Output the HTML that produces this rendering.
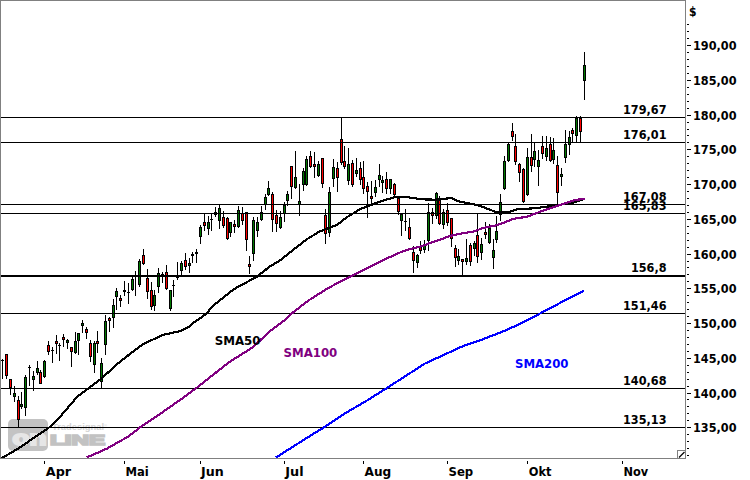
<!DOCTYPE html>
<html lang="de"><head><meta charset="utf-8"><title>Chart</title>
<style>html,body{margin:0;padding:0;background:#fff;overflow:hidden}svg{display:block}</style>
</head><body>
<svg width="750" height="480" viewBox="0 0 750 480">
<rect width="750" height="480" fill="#fff"/>
<g class="wm">
<rect x="8" y="419" width="40" height="32" rx="5" ry="5" fill="#c3c3c3"/>
<text x="12.5" y="445.3" font-family="Liberation Sans, sans-serif" font-weight="bold" font-size="20" fill="#e6e6e6" stroke="#e6e6e6" stroke-width="2" textLength="34" lengthAdjust="spacingAndGlyphs">on</text>
<text x="50" y="445.3" font-family="Liberation Sans, sans-serif" font-weight="bold" font-size="14.3" fill="#c2c2c2" stroke="#c2c2c2" stroke-width="1.7" textLength="55" lengthAdjust="spacingAndGlyphs">LINE</text>
<text x="52" y="430" font-family="Liberation Sans, sans-serif" font-weight="bold" font-size="8.5" fill="#d4d4d4" textLength="52" lengthAdjust="spacingAndGlyphs">Tradesignal</text>
<text x="104" y="427" font-family="Liberation Sans, sans-serif" font-size="4" fill="#d4d4d4">®</text>
</g>
<g shape-rendering="crispEdges">
<rect x="2" y="359" width="1" height="20" fill="#000"/>
<rect x="1" y="360" width="3" height="1" fill="#000"/>
<rect x="6" y="354" width="1" height="25" fill="#000"/>
<rect x="5" y="354" width="3" height="22" fill="#000"/>
<rect x="6" y="355" width="1" height="20" fill="#ff0000"/>
<rect x="10" y="379" width="1" height="16" fill="#000"/>
<rect x="9" y="379" width="3" height="9" fill="#000"/>
<rect x="10" y="380" width="1" height="7" fill="#ff0000"/>
<rect x="14" y="386" width="1" height="16" fill="#000"/>
<rect x="13" y="393" width="3" height="4" fill="#000"/>
<rect x="14" y="394" width="1" height="2" fill="#007800"/>
<rect x="18" y="396" width="1" height="31" fill="#000"/>
<rect x="17" y="400" width="3" height="20" fill="#000"/>
<rect x="18" y="401" width="1" height="18" fill="#ff0000"/>
<rect x="21" y="392" width="1" height="17" fill="#000"/>
<rect x="20" y="404" width="3" height="3" fill="#000"/>
<rect x="21" y="405" width="1" height="1" fill="#007800"/>
<rect x="25" y="375" width="1" height="41" fill="#000"/>
<rect x="24" y="377" width="3" height="31" fill="#000"/>
<rect x="25" y="378" width="1" height="29" fill="#007800"/>
<rect x="29" y="365" width="1" height="21" fill="#000"/>
<rect x="28" y="367" width="3" height="1" fill="#000"/>
<rect x="33" y="371" width="1" height="20" fill="#000"/>
<rect x="32" y="376" width="3" height="4" fill="#000"/>
<rect x="33" y="377" width="1" height="2" fill="#007800"/>
<rect x="37" y="361" width="1" height="14" fill="#000"/>
<rect x="36" y="368" width="3" height="5" fill="#000"/>
<rect x="37" y="369" width="1" height="3" fill="#007800"/>
<rect x="40" y="370" width="1" height="14" fill="#000"/>
<rect x="39" y="372" width="3" height="12" fill="#000"/>
<rect x="40" y="373" width="1" height="10" fill="#ff0000"/>
<rect x="44" y="360" width="1" height="18" fill="#000"/>
<rect x="43" y="361" width="3" height="16" fill="#000"/>
<rect x="44" y="362" width="1" height="14" fill="#007800"/>
<rect x="48" y="341" width="1" height="14" fill="#000"/>
<rect x="47" y="345" width="3" height="7" fill="#000"/>
<rect x="48" y="346" width="1" height="5" fill="#ff0000"/>
<rect x="52" y="347" width="1" height="16" fill="#000"/>
<rect x="51" y="350" width="3" height="1" fill="#000"/>
<rect x="56" y="335" width="1" height="19" fill="#000"/>
<rect x="55" y="341" width="3" height="3" fill="#000"/>
<rect x="56" y="342" width="1" height="1" fill="#ff0000"/>
<rect x="59" y="343" width="1" height="18" fill="#000"/>
<rect x="58" y="345" width="3" height="1" fill="#000"/>
<rect x="63" y="334" width="1" height="13" fill="#000"/>
<rect x="62" y="337" width="3" height="3" fill="#000"/>
<rect x="63" y="338" width="1" height="1" fill="#ff0000"/>
<rect x="67" y="339" width="1" height="10" fill="#000"/>
<rect x="66" y="340" width="3" height="3" fill="#000"/>
<rect x="67" y="341" width="1" height="1" fill="#007800"/>
<rect x="71" y="347" width="1" height="20" fill="#000"/>
<rect x="70" y="347" width="3" height="5" fill="#000"/>
<rect x="71" y="348" width="1" height="3" fill="#ff0000"/>
<rect x="75" y="332" width="1" height="22" fill="#000"/>
<rect x="74" y="341" width="3" height="12" fill="#000"/>
<rect x="75" y="342" width="1" height="10" fill="#007800"/>
<rect x="78" y="333" width="1" height="22" fill="#000"/>
<rect x="77" y="333" width="3" height="8" fill="#000"/>
<rect x="78" y="334" width="1" height="6" fill="#007800"/>
<rect x="82" y="320" width="1" height="13" fill="#000"/>
<rect x="81" y="323" width="3" height="3" fill="#000"/>
<rect x="82" y="324" width="1" height="1" fill="#007800"/>
<rect x="86" y="327" width="1" height="12" fill="#000"/>
<rect x="85" y="329" width="3" height="4" fill="#000"/>
<rect x="86" y="330" width="1" height="2" fill="#ff0000"/>
<rect x="90" y="340" width="1" height="22" fill="#000"/>
<rect x="89" y="343" width="3" height="14" fill="#000"/>
<rect x="90" y="344" width="1" height="12" fill="#ff0000"/>
<rect x="94" y="341" width="1" height="32" fill="#000"/>
<rect x="93" y="343" width="3" height="22" fill="#000"/>
<rect x="94" y="344" width="1" height="20" fill="#007800"/>
<rect x="97" y="331" width="1" height="22" fill="#000"/>
<rect x="96" y="341" width="3" height="3" fill="#000"/>
<rect x="97" y="342" width="1" height="1" fill="#ff0000"/>
<rect x="101" y="358" width="1" height="30" fill="#000"/>
<rect x="100" y="363" width="3" height="19" fill="#000"/>
<rect x="101" y="364" width="1" height="17" fill="#007800"/>
<rect x="105" y="315" width="1" height="40" fill="#000"/>
<rect x="104" y="321" width="3" height="24" fill="#000"/>
<rect x="105" y="322" width="1" height="22" fill="#007800"/>
<rect x="109" y="317" width="1" height="15" fill="#000"/>
<rect x="108" y="318" width="3" height="3" fill="#000"/>
<rect x="109" y="319" width="1" height="1" fill="#ff0000"/>
<rect x="113" y="299" width="1" height="29" fill="#000"/>
<rect x="112" y="305" width="3" height="13" fill="#000"/>
<rect x="113" y="306" width="1" height="11" fill="#007800"/>
<rect x="116" y="288" width="1" height="22" fill="#000"/>
<rect x="115" y="291" width="3" height="6" fill="#000"/>
<rect x="116" y="292" width="1" height="4" fill="#007800"/>
<rect x="120" y="295" width="1" height="12" fill="#000"/>
<rect x="119" y="298" width="3" height="3" fill="#000"/>
<rect x="120" y="299" width="1" height="1" fill="#ff0000"/>
<rect x="124" y="281" width="1" height="15" fill="#000"/>
<rect x="123" y="290" width="3" height="2" fill="#000"/>
<rect x="128" y="283" width="1" height="21" fill="#000"/>
<rect x="127" y="292" width="3" height="1" fill="#000"/>
<rect x="132" y="277" width="1" height="14" fill="#000"/>
<rect x="131" y="279" width="3" height="11" fill="#000"/>
<rect x="132" y="280" width="1" height="9" fill="#007800"/>
<rect x="135" y="271" width="1" height="25" fill="#000"/>
<rect x="134" y="275" width="3" height="1" fill="#000"/>
<rect x="139" y="259" width="1" height="28" fill="#000"/>
<rect x="138" y="261" width="3" height="24" fill="#000"/>
<rect x="139" y="262" width="1" height="22" fill="#007800"/>
<rect x="143" y="249" width="1" height="16" fill="#000"/>
<rect x="142" y="255" width="3" height="9" fill="#000"/>
<rect x="143" y="256" width="1" height="7" fill="#ff0000"/>
<rect x="147" y="269" width="1" height="30" fill="#000"/>
<rect x="146" y="278" width="3" height="14" fill="#000"/>
<rect x="147" y="279" width="1" height="12" fill="#ff0000"/>
<rect x="151" y="282" width="1" height="28" fill="#000"/>
<rect x="150" y="290" width="3" height="17" fill="#000"/>
<rect x="151" y="291" width="1" height="15" fill="#ff0000"/>
<rect x="154" y="290" width="1" height="21" fill="#000"/>
<rect x="153" y="295" width="3" height="11" fill="#000"/>
<rect x="154" y="296" width="1" height="9" fill="#007800"/>
<rect x="158" y="268" width="1" height="25" fill="#000"/>
<rect x="157" y="273" width="3" height="14" fill="#000"/>
<rect x="158" y="274" width="1" height="12" fill="#007800"/>
<rect x="162" y="272" width="1" height="11" fill="#000"/>
<rect x="161" y="274" width="3" height="1" fill="#000"/>
<rect x="166" y="265" width="1" height="25" fill="#000"/>
<rect x="165" y="272" width="3" height="17" fill="#000"/>
<rect x="166" y="273" width="1" height="15" fill="#ff0000"/>
<rect x="170" y="290" width="1" height="21" fill="#000"/>
<rect x="169" y="290" width="3" height="19" fill="#000"/>
<rect x="170" y="291" width="1" height="17" fill="#007800"/>
<rect x="173" y="280" width="1" height="17" fill="#000"/>
<rect x="172" y="285" width="3" height="1" fill="#000"/>
<rect x="177" y="262" width="1" height="18" fill="#000"/>
<rect x="176" y="275" width="3" height="3" fill="#000"/>
<rect x="177" y="276" width="1" height="1" fill="#007800"/>
<rect x="181" y="261" width="1" height="14" fill="#000"/>
<rect x="180" y="263" width="3" height="8" fill="#000"/>
<rect x="181" y="264" width="1" height="6" fill="#007800"/>
<rect x="185" y="253" width="1" height="17" fill="#000"/>
<rect x="184" y="260" width="3" height="7" fill="#000"/>
<rect x="185" y="261" width="1" height="5" fill="#ff0000"/>
<rect x="189" y="258" width="1" height="15" fill="#000"/>
<rect x="188" y="263" width="3" height="3" fill="#000"/>
<rect x="189" y="264" width="1" height="1" fill="#007800"/>
<rect x="192" y="252" width="1" height="11" fill="#000"/>
<rect x="191" y="254" width="3" height="2" fill="#000"/>
<rect x="196" y="249" width="1" height="14" fill="#000"/>
<rect x="195" y="252" width="3" height="2" fill="#000"/>
<rect x="200" y="225" width="1" height="19" fill="#000"/>
<rect x="199" y="227" width="3" height="10" fill="#000"/>
<rect x="200" y="228" width="1" height="8" fill="#007800"/>
<rect x="204" y="213" width="1" height="18" fill="#000"/>
<rect x="203" y="222" width="3" height="4" fill="#000"/>
<rect x="204" y="223" width="1" height="2" fill="#ff0000"/>
<rect x="208" y="216" width="1" height="19" fill="#000"/>
<rect x="207" y="222" width="3" height="7" fill="#000"/>
<rect x="208" y="223" width="1" height="5" fill="#007800"/>
<rect x="211" y="213" width="1" height="18" fill="#000"/>
<rect x="210" y="219" width="3" height="1" fill="#000"/>
<rect x="215" y="207" width="1" height="10" fill="#000"/>
<rect x="214" y="212" width="3" height="3" fill="#000"/>
<rect x="215" y="213" width="1" height="1" fill="#007800"/>
<rect x="219" y="205" width="1" height="24" fill="#000"/>
<rect x="218" y="208" width="3" height="13" fill="#000"/>
<rect x="219" y="209" width="1" height="11" fill="#007800"/>
<rect x="223" y="211" width="1" height="17" fill="#000"/>
<rect x="222" y="217" width="3" height="9" fill="#000"/>
<rect x="223" y="218" width="1" height="7" fill="#ff0000"/>
<rect x="227" y="217" width="1" height="23" fill="#000"/>
<rect x="226" y="218" width="3" height="21" fill="#000"/>
<rect x="227" y="219" width="1" height="19" fill="#ff0000"/>
<rect x="230" y="222" width="1" height="15" fill="#000"/>
<rect x="229" y="222" width="3" height="11" fill="#000"/>
<rect x="230" y="223" width="1" height="9" fill="#007800"/>
<rect x="234" y="220" width="1" height="13" fill="#000"/>
<rect x="233" y="224" width="3" height="3" fill="#000"/>
<rect x="234" y="225" width="1" height="1" fill="#ff0000"/>
<rect x="238" y="206" width="1" height="22" fill="#000"/>
<rect x="237" y="210" width="3" height="17" fill="#000"/>
<rect x="238" y="211" width="1" height="15" fill="#007800"/>
<rect x="242" y="207" width="1" height="18" fill="#000"/>
<rect x="241" y="213" width="3" height="8" fill="#000"/>
<rect x="242" y="214" width="1" height="6" fill="#ff0000"/>
<rect x="246" y="212" width="1" height="39" fill="#000"/>
<rect x="245" y="212" width="3" height="28" fill="#000"/>
<rect x="246" y="213" width="1" height="26" fill="#ff0000"/>
<rect x="249" y="256" width="1" height="18" fill="#000"/>
<rect x="248" y="264" width="3" height="3" fill="#000"/>
<rect x="249" y="265" width="1" height="1" fill="#ff0000"/>
<rect x="253" y="217" width="1" height="44" fill="#000"/>
<rect x="252" y="220" width="3" height="34" fill="#000"/>
<rect x="253" y="221" width="1" height="32" fill="#007800"/>
<rect x="257" y="217" width="1" height="20" fill="#000"/>
<rect x="256" y="222" width="3" height="9" fill="#000"/>
<rect x="257" y="223" width="1" height="7" fill="#007800"/>
<rect x="261" y="206" width="1" height="15" fill="#000"/>
<rect x="260" y="212" width="3" height="8" fill="#000"/>
<rect x="261" y="213" width="1" height="6" fill="#007800"/>
<rect x="265" y="194" width="1" height="16" fill="#000"/>
<rect x="264" y="197" width="3" height="8" fill="#000"/>
<rect x="265" y="198" width="1" height="6" fill="#007800"/>
<rect x="268" y="181" width="1" height="15" fill="#000"/>
<rect x="267" y="188" width="3" height="7" fill="#000"/>
<rect x="268" y="189" width="1" height="5" fill="#007800"/>
<rect x="272" y="192" width="1" height="40" fill="#000"/>
<rect x="271" y="194" width="3" height="26" fill="#000"/>
<rect x="272" y="195" width="1" height="24" fill="#ff0000"/>
<rect x="276" y="210" width="1" height="22" fill="#000"/>
<rect x="275" y="215" width="3" height="9" fill="#000"/>
<rect x="276" y="216" width="1" height="7" fill="#ff0000"/>
<rect x="280" y="211" width="1" height="18" fill="#000"/>
<rect x="279" y="217" width="3" height="11" fill="#000"/>
<rect x="280" y="218" width="1" height="9" fill="#007800"/>
<rect x="284" y="202" width="1" height="20" fill="#000"/>
<rect x="283" y="205" width="3" height="9" fill="#000"/>
<rect x="284" y="206" width="1" height="7" fill="#007800"/>
<rect x="287" y="191" width="1" height="15" fill="#000"/>
<rect x="286" y="194" width="3" height="7" fill="#000"/>
<rect x="287" y="195" width="1" height="5" fill="#007800"/>
<rect x="291" y="166" width="1" height="33" fill="#000"/>
<rect x="290" y="166" width="3" height="21" fill="#000"/>
<rect x="291" y="167" width="1" height="19" fill="#ff0000"/>
<rect x="295" y="151" width="1" height="38" fill="#000"/>
<rect x="294" y="177" width="3" height="11" fill="#000"/>
<rect x="295" y="178" width="1" height="9" fill="#007800"/>
<rect x="299" y="184" width="1" height="32" fill="#000"/>
<rect x="298" y="201" width="3" height="4" fill="#000"/>
<rect x="299" y="202" width="1" height="2" fill="#007800"/>
<rect x="303" y="168" width="1" height="23" fill="#000"/>
<rect x="302" y="171" width="3" height="14" fill="#000"/>
<rect x="303" y="172" width="1" height="12" fill="#007800"/>
<rect x="306" y="156" width="1" height="30" fill="#000"/>
<rect x="305" y="159" width="3" height="26" fill="#000"/>
<rect x="306" y="160" width="1" height="24" fill="#007800"/>
<rect x="310" y="151" width="1" height="17" fill="#000"/>
<rect x="309" y="156" width="3" height="11" fill="#000"/>
<rect x="310" y="157" width="1" height="9" fill="#ff0000"/>
<rect x="314" y="152" width="1" height="26" fill="#000"/>
<rect x="313" y="164" width="3" height="3" fill="#000"/>
<rect x="314" y="165" width="1" height="1" fill="#ff0000"/>
<rect x="318" y="161" width="1" height="16" fill="#000"/>
<rect x="317" y="164" width="3" height="12" fill="#000"/>
<rect x="318" y="165" width="1" height="10" fill="#007800"/>
<rect x="322" y="158" width="1" height="30" fill="#000"/>
<rect x="321" y="158" width="3" height="26" fill="#000"/>
<rect x="322" y="159" width="1" height="24" fill="#ff0000"/>
<rect x="325" y="209" width="1" height="35" fill="#000"/>
<rect x="324" y="215" width="3" height="19" fill="#000"/>
<rect x="325" y="216" width="1" height="17" fill="#ff0000"/>
<rect x="329" y="187" width="1" height="50" fill="#000"/>
<rect x="328" y="192" width="3" height="41" fill="#000"/>
<rect x="329" y="193" width="1" height="39" fill="#007800"/>
<rect x="333" y="159" width="1" height="28" fill="#000"/>
<rect x="332" y="167" width="3" height="12" fill="#000"/>
<rect x="333" y="168" width="1" height="10" fill="#007800"/>
<rect x="337" y="162" width="1" height="30" fill="#000"/>
<rect x="336" y="168" width="3" height="10" fill="#000"/>
<rect x="337" y="169" width="1" height="8" fill="#ff0000"/>
<rect x="341" y="117" width="1" height="48" fill="#000"/>
<rect x="340" y="139" width="3" height="24" fill="#000"/>
<rect x="341" y="140" width="1" height="22" fill="#ff0000"/>
<rect x="344" y="146" width="1" height="23" fill="#000"/>
<rect x="343" y="161" width="3" height="6" fill="#000"/>
<rect x="344" y="162" width="1" height="4" fill="#ff0000"/>
<rect x="348" y="148" width="1" height="37" fill="#000"/>
<rect x="347" y="164" width="3" height="17" fill="#000"/>
<rect x="348" y="165" width="1" height="15" fill="#007800"/>
<rect x="352" y="160" width="1" height="27" fill="#000"/>
<rect x="351" y="163" width="3" height="22" fill="#000"/>
<rect x="352" y="164" width="1" height="20" fill="#ff0000"/>
<rect x="356" y="158" width="1" height="19" fill="#000"/>
<rect x="355" y="170" width="3" height="4" fill="#000"/>
<rect x="356" y="171" width="1" height="2" fill="#007800"/>
<rect x="360" y="162" width="1" height="23" fill="#000"/>
<rect x="359" y="168" width="3" height="12" fill="#000"/>
<rect x="360" y="169" width="1" height="10" fill="#ff0000"/>
<rect x="363" y="161" width="1" height="33" fill="#000"/>
<rect x="362" y="177" width="3" height="12" fill="#000"/>
<rect x="363" y="178" width="1" height="10" fill="#ff0000"/>
<rect x="367" y="182" width="1" height="36" fill="#000"/>
<rect x="366" y="186" width="3" height="6" fill="#000"/>
<rect x="367" y="187" width="1" height="4" fill="#ff0000"/>
<rect x="371" y="181" width="1" height="24" fill="#000"/>
<rect x="370" y="196" width="3" height="3" fill="#000"/>
<rect x="371" y="197" width="1" height="1" fill="#ff0000"/>
<rect x="375" y="180" width="1" height="17" fill="#000"/>
<rect x="374" y="187" width="3" height="6" fill="#000"/>
<rect x="375" y="188" width="1" height="4" fill="#007800"/>
<rect x="379" y="164" width="1" height="23" fill="#000"/>
<rect x="378" y="175" width="3" height="5" fill="#000"/>
<rect x="379" y="176" width="1" height="3" fill="#007800"/>
<rect x="382" y="176" width="1" height="17" fill="#000"/>
<rect x="381" y="180" width="3" height="3" fill="#000"/>
<rect x="382" y="181" width="1" height="1" fill="#007800"/>
<rect x="386" y="172" width="1" height="22" fill="#000"/>
<rect x="385" y="179" width="3" height="10" fill="#000"/>
<rect x="386" y="180" width="1" height="8" fill="#ff0000"/>
<rect x="390" y="179" width="1" height="15" fill="#000"/>
<rect x="389" y="179" width="3" height="10" fill="#000"/>
<rect x="390" y="180" width="1" height="8" fill="#007800"/>
<rect x="394" y="183" width="1" height="14" fill="#000"/>
<rect x="393" y="184" width="3" height="11" fill="#000"/>
<rect x="394" y="185" width="1" height="9" fill="#ff0000"/>
<rect x="398" y="197" width="1" height="18" fill="#000"/>
<rect x="397" y="198" width="3" height="14" fill="#000"/>
<rect x="398" y="199" width="1" height="12" fill="#ff0000"/>
<rect x="401" y="213" width="1" height="23" fill="#000"/>
<rect x="400" y="214" width="3" height="7" fill="#000"/>
<rect x="401" y="215" width="1" height="5" fill="#007800"/>
<rect x="405" y="209" width="1" height="22" fill="#000"/>
<rect x="404" y="221" width="3" height="1" fill="#000"/>
<rect x="409" y="218" width="1" height="22" fill="#000"/>
<rect x="408" y="227" width="3" height="12" fill="#000"/>
<rect x="409" y="228" width="1" height="10" fill="#ff0000"/>
<rect x="413" y="246" width="1" height="27" fill="#000"/>
<rect x="412" y="252" width="3" height="9" fill="#000"/>
<rect x="413" y="253" width="1" height="7" fill="#ff0000"/>
<rect x="417" y="254" width="1" height="14" fill="#000"/>
<rect x="416" y="255" width="3" height="8" fill="#000"/>
<rect x="417" y="256" width="1" height="6" fill="#007800"/>
<rect x="420" y="241" width="1" height="13" fill="#000"/>
<rect x="419" y="247" width="3" height="4" fill="#000"/>
<rect x="420" y="248" width="1" height="2" fill="#ff0000"/>
<rect x="424" y="240" width="1" height="13" fill="#000"/>
<rect x="423" y="245" width="3" height="5" fill="#000"/>
<rect x="424" y="246" width="1" height="3" fill="#007800"/>
<rect x="428" y="203" width="1" height="48" fill="#000"/>
<rect x="427" y="212" width="3" height="29" fill="#000"/>
<rect x="428" y="213" width="1" height="27" fill="#007800"/>
<rect x="432" y="208" width="1" height="16" fill="#000"/>
<rect x="431" y="212" width="3" height="4" fill="#000"/>
<rect x="432" y="213" width="1" height="2" fill="#ff0000"/>
<rect x="436" y="192" width="1" height="27" fill="#000"/>
<rect x="435" y="193" width="3" height="23" fill="#000"/>
<rect x="436" y="194" width="1" height="21" fill="#007800"/>
<rect x="439" y="196" width="1" height="29" fill="#000"/>
<rect x="438" y="200" width="3" height="24" fill="#000"/>
<rect x="439" y="201" width="1" height="22" fill="#ff0000"/>
<rect x="443" y="209" width="1" height="20" fill="#000"/>
<rect x="442" y="212" width="3" height="13" fill="#000"/>
<rect x="443" y="213" width="1" height="11" fill="#007800"/>
<rect x="447" y="203" width="1" height="23" fill="#000"/>
<rect x="446" y="210" width="3" height="13" fill="#000"/>
<rect x="447" y="211" width="1" height="11" fill="#ff0000"/>
<rect x="451" y="218" width="1" height="29" fill="#000"/>
<rect x="450" y="218" width="3" height="21" fill="#000"/>
<rect x="451" y="219" width="1" height="19" fill="#ff0000"/>
<rect x="455" y="245" width="1" height="22" fill="#000"/>
<rect x="454" y="248" width="3" height="10" fill="#000"/>
<rect x="455" y="249" width="1" height="8" fill="#ff0000"/>
<rect x="458" y="249" width="1" height="16" fill="#000"/>
<rect x="457" y="256" width="3" height="5" fill="#000"/>
<rect x="458" y="257" width="1" height="3" fill="#007800"/>
<rect x="462" y="259" width="1" height="16" fill="#000"/>
<rect x="461" y="259" width="3" height="3" fill="#000"/>
<rect x="462" y="260" width="1" height="1" fill="#ff0000"/>
<rect x="466" y="239" width="1" height="26" fill="#000"/>
<rect x="465" y="258" width="3" height="4" fill="#000"/>
<rect x="466" y="259" width="1" height="2" fill="#007800"/>
<rect x="470" y="243" width="1" height="23" fill="#000"/>
<rect x="469" y="245" width="3" height="17" fill="#000"/>
<rect x="470" y="246" width="1" height="15" fill="#ff0000"/>
<rect x="474" y="241" width="1" height="15" fill="#000"/>
<rect x="473" y="243" width="3" height="6" fill="#000"/>
<rect x="474" y="244" width="1" height="4" fill="#007800"/>
<rect x="477" y="213" width="1" height="50" fill="#000"/>
<rect x="476" y="235" width="3" height="22" fill="#000"/>
<rect x="477" y="236" width="1" height="20" fill="#ff0000"/>
<rect x="481" y="238" width="1" height="22" fill="#000"/>
<rect x="480" y="244" width="3" height="9" fill="#000"/>
<rect x="481" y="245" width="1" height="7" fill="#007800"/>
<rect x="485" y="222" width="1" height="17" fill="#000"/>
<rect x="484" y="232" width="3" height="3" fill="#000"/>
<rect x="485" y="233" width="1" height="1" fill="#ff0000"/>
<rect x="489" y="224" width="1" height="20" fill="#000"/>
<rect x="488" y="228" width="3" height="15" fill="#000"/>
<rect x="489" y="229" width="1" height="13" fill="#007800"/>
<rect x="493" y="239" width="1" height="30" fill="#000"/>
<rect x="492" y="250" width="3" height="8" fill="#000"/>
<rect x="493" y="251" width="1" height="6" fill="#007800"/>
<rect x="496" y="216" width="1" height="27" fill="#000"/>
<rect x="495" y="231" width="3" height="9" fill="#000"/>
<rect x="496" y="232" width="1" height="7" fill="#007800"/>
<rect x="500" y="194" width="1" height="27" fill="#000"/>
<rect x="499" y="202" width="3" height="13" fill="#000"/>
<rect x="500" y="203" width="1" height="11" fill="#007800"/>
<rect x="504" y="156" width="1" height="34" fill="#000"/>
<rect x="503" y="161" width="3" height="28" fill="#000"/>
<rect x="504" y="162" width="1" height="26" fill="#007800"/>
<rect x="508" y="143" width="1" height="19" fill="#000"/>
<rect x="507" y="144" width="3" height="17" fill="#000"/>
<rect x="508" y="145" width="1" height="15" fill="#007800"/>
<rect x="512" y="123" width="1" height="18" fill="#000"/>
<rect x="511" y="131" width="3" height="6" fill="#000"/>
<rect x="512" y="132" width="1" height="4" fill="#ff0000"/>
<rect x="515" y="134" width="1" height="31" fill="#000"/>
<rect x="514" y="146" width="3" height="16" fill="#000"/>
<rect x="515" y="147" width="1" height="14" fill="#ff0000"/>
<rect x="519" y="163" width="1" height="19" fill="#000"/>
<rect x="518" y="164" width="3" height="9" fill="#000"/>
<rect x="519" y="165" width="1" height="7" fill="#ff0000"/>
<rect x="523" y="168" width="1" height="35" fill="#000"/>
<rect x="522" y="169" width="3" height="33" fill="#000"/>
<rect x="523" y="170" width="1" height="31" fill="#ff0000"/>
<rect x="527" y="148" width="1" height="48" fill="#000"/>
<rect x="526" y="157" width="3" height="38" fill="#000"/>
<rect x="527" y="158" width="1" height="36" fill="#007800"/>
<rect x="531" y="134" width="1" height="38" fill="#000"/>
<rect x="530" y="157" width="3" height="9" fill="#000"/>
<rect x="531" y="158" width="1" height="7" fill="#ff0000"/>
<rect x="534" y="143" width="1" height="24" fill="#000"/>
<rect x="533" y="151" width="3" height="9" fill="#000"/>
<rect x="534" y="152" width="1" height="7" fill="#007800"/>
<rect x="538" y="150" width="1" height="36" fill="#000"/>
<rect x="537" y="160" width="3" height="7" fill="#000"/>
<rect x="538" y="161" width="1" height="5" fill="#007800"/>
<rect x="542" y="136" width="1" height="23" fill="#000"/>
<rect x="541" y="146" width="3" height="8" fill="#000"/>
<rect x="542" y="147" width="1" height="6" fill="#ff0000"/>
<rect x="546" y="136" width="1" height="25" fill="#000"/>
<rect x="545" y="148" width="3" height="9" fill="#000"/>
<rect x="546" y="149" width="1" height="7" fill="#007800"/>
<rect x="550" y="137" width="1" height="25" fill="#000"/>
<rect x="549" y="144" width="3" height="17" fill="#000"/>
<rect x="550" y="145" width="1" height="15" fill="#ff0000"/>
<rect x="553" y="138" width="1" height="26" fill="#000"/>
<rect x="552" y="150" width="3" height="10" fill="#000"/>
<rect x="553" y="151" width="1" height="8" fill="#007800"/>
<rect x="557" y="156" width="1" height="48" fill="#000"/>
<rect x="556" y="165" width="3" height="28" fill="#000"/>
<rect x="557" y="166" width="1" height="26" fill="#ff0000"/>
<rect x="561" y="168" width="1" height="18" fill="#000"/>
<rect x="560" y="174" width="3" height="3" fill="#000"/>
<rect x="561" y="175" width="1" height="1" fill="#007800"/>
<rect x="565" y="130" width="1" height="33" fill="#000"/>
<rect x="564" y="144" width="3" height="14" fill="#000"/>
<rect x="565" y="145" width="1" height="12" fill="#007800"/>
<rect x="569" y="131" width="1" height="24" fill="#000"/>
<rect x="568" y="137" width="3" height="8" fill="#000"/>
<rect x="569" y="138" width="1" height="6" fill="#007800"/>
<rect x="572" y="128" width="1" height="14" fill="#000"/>
<rect x="571" y="130" width="3" height="4" fill="#000"/>
<rect x="572" y="131" width="1" height="2" fill="#ff0000"/>
<rect x="576" y="116" width="1" height="26" fill="#000"/>
<rect x="575" y="118" width="3" height="18" fill="#000"/>
<rect x="576" y="119" width="1" height="16" fill="#007800"/>
<rect x="580" y="116" width="1" height="26" fill="#000"/>
<rect x="579" y="118" width="3" height="14" fill="#000"/>
<rect x="580" y="119" width="1" height="12" fill="#ff0000"/>
<rect x="584" y="52" width="1" height="48" fill="#000"/>
<rect x="583" y="65" width="3" height="16" fill="#000"/>
<rect x="584" y="66" width="1" height="14" fill="#007800"/>
</g>
<g shape-rendering="crispEdges" fill="#000">
<rect x="1" y="117" width="684" height="1"/>
<rect x="1" y="142" width="684" height="1"/>
<rect x="1" y="204" width="684" height="1"/>
<rect x="1" y="213" width="684" height="1"/>
<rect x="1" y="275" width="684" height="2"/>
<rect x="1" y="313" width="684" height="1"/>
<rect x="1" y="388" width="684" height="1"/>
<rect x="1" y="427" width="684" height="1"/>
</g>
<g clip-path="url(#cp)" shape-rendering="crispEdges">
<polyline points="1.0,458.5 2.7,457.6 18.0,448.7 49.3,427.3 57.3,420.0 77.3,396.7 101.3,378.7 117.3,364.0 124.7,358.0 143.3,344.0 162.7,335.0 180.7,331.0 190.0,326.0 192.8,323.2 206.7,313.6 212.0,306.6 233.3,289.5 256.8,276.7 269.6,266.7 280.3,260.3 293.0,250.0 306.7,239.3 320.0,231.3 325.3,229.3 337.3,224.7 346.7,217.3 360.0,209.3 370.7,205.0 380.5,201.5 395.0,197.0 404.3,196.7 421.7,199.3 435.0,199.7 451.7,198.0 458.3,201.3 478.3,205.3 497.0,212.4 507.7,212.4 518.3,209.0 525.0,209.0 536.7,208.0 556.7,205.3 572.7,202.7 583.3,199.3" fill="none" stroke="#000" stroke-width="2.2" stroke-linejoin="round" stroke-linecap="butt"/>
<polyline points="86.7,457.5 106.7,448.7 128.0,436.7 141.3,426.5 160.0,414.0 180.0,400.0 197.3,387.3 229.3,362.0 250.7,348.7 260.0,340.5 270.0,331.0 282.4,322.0 293.0,312.5 308.0,300.8 325.0,290.0 340.0,281.6 350.0,276.7 383.3,260.0 400.0,252.5 405.7,250.3 419.0,247.0 432.3,242.3 451.0,235.7 464.3,233.0 475.0,231.3 481.7,228.3 495.0,225.7 502.0,223.3 514.0,218.7 527.3,216.7 539.3,212.0 556.7,206.0 575.3,200.0 584.7,198.7" fill="none" stroke="#800080" stroke-width="2.2" stroke-linejoin="round" stroke-linecap="butt"/>
<polyline points="276.0,457.5 292.0,447.3 308.0,437.2 324.0,427.3 345.3,413.2 366.7,400.7 388.0,387.3 406.7,375.3 425.3,363.3 443.0,355.3 461.3,346.8 482.7,339.3 506.7,330.0 525.3,321.2 546.7,310.0 568.0,298.8 584.0,290.8" fill="none" stroke="#0000ff" stroke-width="2.2" stroke-linejoin="round" stroke-linecap="butt"/>
</g>
<defs><clipPath id="cp"><rect x="1" y="1" width="684" height="457"/></clipPath></defs>
<g shape-rendering="crispEdges" fill="#808080">
<rect x="0" y="0" width="686" height="1"/>
<rect x="0" y="0" width="1" height="459"/>
<rect x="685" y="0" width="1" height="459"/>
<rect x="0" y="458" width="686" height="1"/>
</g>
<g shape-rendering="crispEdges"><rect x="677.5" y="450.5" width="8" height="8" fill="#fff" stroke="#808080" stroke-width="1"/></g>
<path d="M679 457.5 L684.5 452" stroke="#000" stroke-width="1.3" fill="none"/>
<g shape-rendering="crispEdges" fill="#000">
<rect x="687" y="455" width="2" height="1"/>
<rect x="687" y="448" width="2" height="1"/>
<rect x="687" y="441" width="2" height="1"/>
<rect x="687" y="434" width="2" height="1"/>
<rect x="687" y="427" width="4" height="1"/>
<rect x="687" y="420" width="2" height="1"/>
<rect x="687" y="413" width="2" height="1"/>
<rect x="687" y="406" width="2" height="1"/>
<rect x="687" y="399" width="2" height="1"/>
<rect x="687" y="393" width="4" height="1"/>
<rect x="687" y="386" width="2" height="1"/>
<rect x="687" y="379" width="2" height="1"/>
<rect x="687" y="372" width="2" height="1"/>
<rect x="687" y="365" width="2" height="1"/>
<rect x="687" y="358" width="4" height="1"/>
<rect x="687" y="351" width="2" height="1"/>
<rect x="687" y="344" width="2" height="1"/>
<rect x="687" y="337" width="2" height="1"/>
<rect x="687" y="330" width="2" height="1"/>
<rect x="687" y="323" width="4" height="1"/>
<rect x="687" y="316" width="2" height="1"/>
<rect x="687" y="309" width="2" height="1"/>
<rect x="687" y="302" width="2" height="1"/>
<rect x="687" y="295" width="2" height="1"/>
<rect x="687" y="288" width="4" height="1"/>
<rect x="687" y="281" width="2" height="1"/>
<rect x="687" y="274" width="2" height="1"/>
<rect x="687" y="267" width="2" height="1"/>
<rect x="687" y="261" width="2" height="1"/>
<rect x="687" y="254" width="4" height="1"/>
<rect x="687" y="247" width="2" height="1"/>
<rect x="687" y="240" width="2" height="1"/>
<rect x="687" y="233" width="2" height="1"/>
<rect x="687" y="226" width="2" height="1"/>
<rect x="687" y="219" width="4" height="1"/>
<rect x="687" y="212" width="2" height="1"/>
<rect x="687" y="205" width="2" height="1"/>
<rect x="687" y="198" width="2" height="1"/>
<rect x="687" y="191" width="2" height="1"/>
<rect x="687" y="184" width="4" height="1"/>
<rect x="687" y="177" width="2" height="1"/>
<rect x="687" y="170" width="2" height="1"/>
<rect x="687" y="163" width="2" height="1"/>
<rect x="687" y="156" width="2" height="1"/>
<rect x="687" y="149" width="4" height="1"/>
<rect x="687" y="142" width="2" height="1"/>
<rect x="687" y="135" width="2" height="1"/>
<rect x="687" y="129" width="2" height="1"/>
<rect x="687" y="122" width="2" height="1"/>
<rect x="687" y="115" width="4" height="1"/>
<rect x="687" y="108" width="2" height="1"/>
<rect x="687" y="101" width="2" height="1"/>
<rect x="687" y="94" width="2" height="1"/>
<rect x="687" y="87" width="2" height="1"/>
<rect x="687" y="80" width="4" height="1"/>
<rect x="687" y="73" width="2" height="1"/>
<rect x="687" y="66" width="2" height="1"/>
<rect x="687" y="59" width="2" height="1"/>
<rect x="687" y="52" width="2" height="1"/>
<rect x="687" y="45" width="4" height="1"/>
<rect x="687" y="38" width="2" height="1"/>
<rect x="687" y="31" width="2" height="1"/>
<rect x="687" y="24" width="2" height="1"/>
<rect x="44" y="461" width="1" height="3"/>
<rect x="124" y="461" width="1" height="3"/>
<rect x="200" y="461" width="1" height="3"/>
<rect x="284" y="461" width="1" height="3"/>
<rect x="363" y="461" width="1" height="3"/>
<rect x="447" y="461" width="1" height="3"/>
<rect x="527" y="461" width="1" height="3"/>
<rect x="622" y="461" width="1" height="3"/>
</g>
<g font-family="DejaVu Sans Condensed, DejaVu Sans, Liberation Sans, sans-serif" font-weight="bold" font-size="12" fill="#000">
<text x="693" y="432" textLength="43.5" lengthAdjust="spacingAndGlyphs">135,00</text>
<text x="693" y="398" textLength="43.5" lengthAdjust="spacingAndGlyphs">140,00</text>
<text x="693" y="363" textLength="43.5" lengthAdjust="spacingAndGlyphs">145,00</text>
<text x="693" y="328" textLength="43.5" lengthAdjust="spacingAndGlyphs">150,00</text>
<text x="693" y="293" textLength="43.5" lengthAdjust="spacingAndGlyphs">155,00</text>
<text x="693" y="259" textLength="43.5" lengthAdjust="spacingAndGlyphs">160,00</text>
<text x="693" y="224" textLength="43.5" lengthAdjust="spacingAndGlyphs">165,00</text>
<text x="693" y="189" textLength="43.5" lengthAdjust="spacingAndGlyphs">170,00</text>
<text x="693" y="154" textLength="43.5" lengthAdjust="spacingAndGlyphs">175,00</text>
<text x="693" y="120" textLength="43.5" lengthAdjust="spacingAndGlyphs">180,00</text>
<text x="693" y="85" textLength="43.5" lengthAdjust="spacingAndGlyphs">185,00</text>
<text x="693" y="50" textLength="43.5" lengthAdjust="spacingAndGlyphs">190,00</text>
<text x="689" y="16">$</text>
<text x="45.8" y="476" textLength="25.3" lengthAdjust="spacingAndGlyphs">Apr</text>
<text x="125.5" y="476" textLength="23.3" lengthAdjust="spacingAndGlyphs">Mai</text>
<text x="201" y="476" textLength="22.7" lengthAdjust="spacingAndGlyphs">Jun</text>
<text x="285.3" y="476" textLength="18.3" lengthAdjust="spacingAndGlyphs">Jul</text>
<text x="364.5" y="476" textLength="26.7" lengthAdjust="spacingAndGlyphs">Aug</text>
<text x="448.5" y="476" textLength="24.7" lengthAdjust="spacingAndGlyphs">Sep</text>
<text x="528.8" y="476" textLength="22.7" lengthAdjust="spacingAndGlyphs">Okt</text>
<text x="623.5" y="476" textLength="24.7" lengthAdjust="spacingAndGlyphs">Nov</text>
<text x="623.0" y="114" textLength="43.5" lengthAdjust="spacingAndGlyphs">179,67</text>
<text x="623.0" y="139" textLength="43.5" lengthAdjust="spacingAndGlyphs">176,01</text>
<text x="623.0" y="201" textLength="43.5" lengthAdjust="spacingAndGlyphs">167,08</text>
<text x="623.0" y="210" textLength="43.5" lengthAdjust="spacingAndGlyphs">165,83</text>
<text x="630.9" y="272" textLength="35.6" lengthAdjust="spacingAndGlyphs">156,8</text>
<text x="623.0" y="310" textLength="43.5" lengthAdjust="spacingAndGlyphs">151,46</text>
<text x="623.0" y="385" textLength="43.5" lengthAdjust="spacingAndGlyphs">140,68</text>
<text x="623.0" y="424" textLength="43.5" lengthAdjust="spacingAndGlyphs">135,13</text>
<text x="214.7" y="345" textLength="45.8" lengthAdjust="spacingAndGlyphs">SMA50</text>
<text x="283.5" y="357" fill="#800080" textLength="53.8" lengthAdjust="spacingAndGlyphs">SMA100</text>
<text x="515" y="368" fill="#0000ff" textLength="53.5" lengthAdjust="spacingAndGlyphs">SMA200</text>
</g>
</svg>
</body></html>
